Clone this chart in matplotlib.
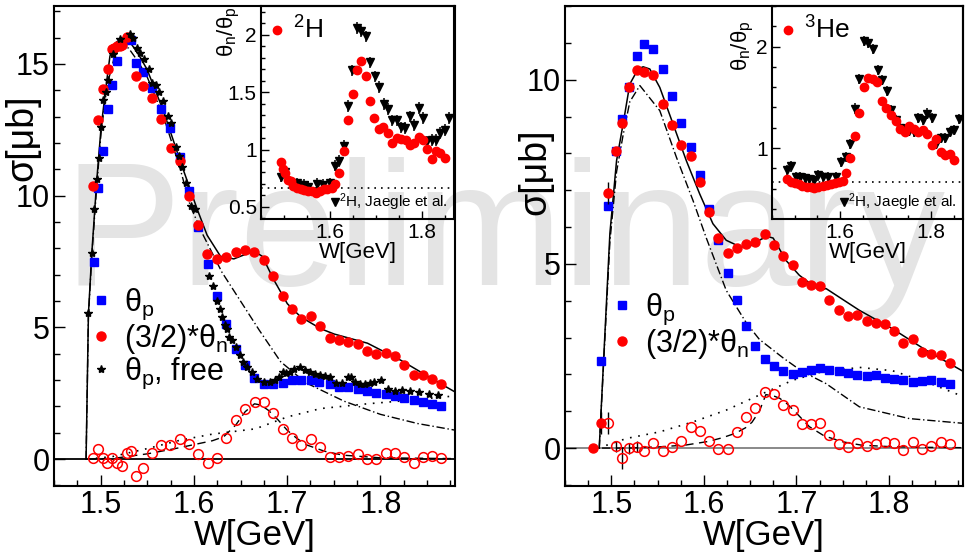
import matplotlib
matplotlib.use('Agg')
import matplotlib.pyplot as plt
from matplotlib.ticker import MultipleLocator, FormatStrFormatter

plt.rcParams['font.family'] = ['Liberation Sans Narrow', 'Liberation Sans', 'DejaVu Sans']
plt.rcParams['mathtext.fontset'] = 'custom'
plt.rcParams['mathtext.rm'] = 'Liberation Sans'
plt.rcParams['mathtext.it'] = 'Liberation Sans'

# ---- left panel (2H) : main cross sections ----
lp_x = [1.4926, 1.4977, 1.5023, 1.5077, 1.5127, 1.5174, 1.5228, 1.5328, 1.5378, 1.5453, 1.5554, 1.5651,
        1.5748, 1.5848, 1.5945, 1.6045, 1.6148, 1.6249, 1.6346, 1.6449, 1.655, 1.6647, 1.675, 1.6851,
        1.6951, 1.7051, 1.7152, 1.7253, 1.7346, 1.7457, 1.7557, 1.7654, 1.7755, 1.7855, 1.7955, 1.8056,
        1.8156, 1.8256, 1.8357, 1.8454, 1.8554, 1.8654]
lp_y = [7.5, 10.3, 11.7, 13.3, 14.2, 15.1, 15.8, 15.9, 15.05, 14.7, 14.07, 13.28,
        12.56, 11.45, 10.16, 8.83, 7.41, 6.21, 5.14, 4.19, 3.56, 3.09, 2.84, 2.84,
        2.89, 2.99, 3.02, 2.99, 2.93, 2.87, 2.74, 2.72, 2.66, 2.59, 2.51, 2.46,
        2.39, 2.31, 2.26, 2.16, 2.08, 2.03]

ln_x = [1.4923, 1.4977, 1.5023, 1.5077, 1.512, 1.5148, 1.5174, 1.521, 1.5234, 1.5282, 1.5378, 1.5453,
        1.5554, 1.5651, 1.5755, 1.5848, 1.5945, 1.6045, 1.6142, 1.6249, 1.6346, 1.6449, 1.655, 1.6647,
        1.675, 1.6851, 1.6951, 1.7051, 1.7152, 1.7253, 1.7353, 1.7457, 1.7557, 1.7654, 1.7755, 1.7855,
        1.7955, 1.8056, 1.8156, 1.8256, 1.8357, 1.8454, 1.8554, 1.8654]
ln_y = [10.35, 12.88, 14.04, 14.82, 15.55, 15.62, 15.68, 15.68, 15.72, 16.03, 14.55, 14.17,
        13.69, 12.9, 11.8, 11.3, 9.97, 8.9, 7.79, 7.6, 7.66, 7.88, 7.94, 7.85,
        7.54, 6.97, 6.21, 5.71, 5.33, 5.42, 5.04, 4.61, 4.51, 4.44, 4.36, 4.09,
        4.0, 4.03, 3.9, 3.59, 3.18, 3.18, 3.06, 2.84]

lf_x = [1.4869, 1.4905, 1.493, 1.4959, 1.4984, 1.5005, 1.503, 1.5056, 1.5084, 1.5138, 1.521, 1.531,
        1.5346, 1.5389, 1.5417, 1.5468, 1.5514, 1.555, 1.559, 1.5626, 1.5669, 1.5718, 1.5755, 1.5805,
        1.5841, 1.5877, 1.592, 1.597, 1.6016, 1.6159, 1.6205, 1.6249, 1.628, 1.6305, 1.633, 1.6354,
        1.638, 1.6405, 1.6456, 1.6493, 1.6527, 1.6571, 1.6624, 1.6677, 1.6749, 1.6813, 1.6871, 1.6914,
        1.6957, 1.6993, 1.7029, 1.7072, 1.7136, 1.7188, 1.7244, 1.7297, 1.735, 1.7404, 1.7458, 1.7529,
        1.7583, 1.7654, 1.769, 1.7733, 1.778, 1.7834, 1.7888, 1.7934, 1.8003, 1.8079, 1.8158, 1.8229,
        1.8319, 1.8419, 1.8516, 1.8616]
lf_y = [5.54, 7.81, 9.5, 10.63, 11.43, 12.61, 13.63, 13.95, 14.39, 15.37, 15.93, 16.12,
        16.0, 15.6, 15.43, 15.2, 14.8, 14.26, 14.2, 13.95, 13.6, 13.03, 12.75, 11.86,
        11.52, 11.07, 10.5, 9.62, 9.5, 6.97, 6.59, 6.02, 5.71, 5.39, 5.1, 4.95,
        4.63, 4.51, 4.25, 3.94, 3.69, 3.5, 3.31, 3.06, 2.93, 2.93, 2.99, 3.12,
        3.31, 3.27, 3.31, 3.44, 3.5, 3.37, 3.31, 3.22, 3.18, 3.14, 3.12, 2.89,
        2.89, 3.12, 3.12, 2.93, 2.87, 2.87, 2.89, 2.93, 2.99, 2.68, 2.58, 2.61,
        2.59, 2.55, 2.49, 2.45]

ld_x = [1.4922, 1.4977, 1.5023, 1.5073, 1.5127, 1.5174, 1.5228, 1.5282, 1.5328, 1.5382, 1.545, 1.555,
        1.5651, 1.5748, 1.5848, 1.5948, 1.6048, 1.6148, 1.6249, 1.6349, 1.6449, 1.655, 1.665, 1.675,
        1.6851, 1.6951, 1.7051, 1.7152, 1.7253, 1.7353, 1.7457, 1.7557, 1.7654, 1.7755, 1.7855, 1.7955,
        1.8056, 1.8156, 1.8256, 1.8357, 1.8454, 1.8554, 1.8654]
ld_y = [0.05, 0.37, 0.05, -0.16, 0.05, -0.16, -0.25, 0.25, 0.31, -0.64, -0.33, 0.25,
        0.53, 0.53, 0.78, 0.56, 0.18, -0.16, 0.05, 0.82, 1.48, 1.89, 2.15, 2.15,
        1.75, 1.16, 0.82, 0.53, 0.75, 0.47, 0.09, 0.09, 0.13, 0.18, 0.0, 0.0,
        0.22, 0.25, 0.09, -0.14, 0.09, 0.13, 0.06]

# fit curves, left panel
lsol_x = [1.4844, 1.4869, 1.4905, 1.4959, 1.5005, 1.5067, 1.51, 1.516, 1.5228, 1.53, 1.54, 1.5497,
          1.5675, 1.5855, 1.6034, 1.6142, 1.6285, 1.6428, 1.6572, 1.6643, 1.6733, 1.6858, 1.7002,
          1.7145, 1.736, 1.7503, 1.7862, 1.822, 1.8578, 1.88]
lsol_y = [0, 5.5, 7.8, 10.6, 12.6, 14.4, 15.3, 15.8, 16.0, 15.9, 15.4, 14.8,
          13.2, 11.3, 9.5, 8.5, 7.7, 7.6, 7.8, 7.9, 7.7, 6.8, 5.9,
          5.4, 4.95, 4.75, 4.4, 3.75, 3.0, 2.55]
ldd_x = [1.4844, 1.4869, 1.4905, 1.4959, 1.5005, 1.507, 1.515, 1.523, 1.53, 1.54, 1.55, 1.5675,
         1.5855, 1.5962, 1.61, 1.63, 1.65, 1.67, 1.693, 1.72, 1.761, 1.8, 1.84, 1.88]
ldd_y = [0, 5.4, 7.7, 10.4, 12.4, 14.2, 15.3, 15.7, 15.6, 15.1, 14.5, 13.0,
         11.0, 9.6, 8.5, 7.1, 6.0, 4.9, 3.7, 2.9, 2.2, 1.7, 1.35, 1.1]
lds_x = [1.486, 1.514, 1.55, 1.58, 1.6, 1.62, 1.632, 1.645, 1.655, 1.665, 1.672, 1.68, 1.69, 1.7,
         1.71, 1.72, 1.74, 1.76, 1.8, 1.88]
lds_y = [0, 0.03, 0.2, 0.4, 0.55, 0.7, 0.85, 1.3, 1.8, 2.1, 2.05, 1.85, 1.5, 1.1,
         0.8, 0.55, 0.3, 0.15, 0.05, 0.02]
ldt_x = [1.486, 1.513, 1.55, 1.5855, 1.62, 1.666, 1.70, 1.736, 1.786, 1.82, 1.85, 1.88]
ldt_y = [0.0, 0.1, 0.4, 0.72, 0.95, 1.15, 1.6, 1.92, 2.1, 2.2, 2.3, 2.4]

# ---- right panel (3He) ----
rp_x = [1.4888, 1.4967, 1.505, 1.5118, 1.519, 1.5273, 1.5351, 1.5452, 1.5559, 1.566, 1.5758, 1.5858,
        1.5958, 1.6055, 1.6156, 1.626, 1.6357, 1.6458, 1.6558, 1.6658, 1.6759, 1.6859, 1.696, 1.7057,
        1.7158, 1.7259, 1.7356, 1.7456, 1.7557, 1.7657, 1.7758, 1.7859, 1.7959, 1.8059, 1.8157, 1.8258,
        1.8358, 1.8458, 1.8559, 1.8659]
rp_y = [2.36, 6.57, 8.06, 8.93, 9.81, 10.63, 10.98, 10.82, 10.29, 9.57, 8.83, 8.17,
        7.4, 6.5, 5.66, 4.75, 4.03, 3.31, 2.78, 2.43, 2.22, 2.09, 2.02, 2.07,
        2.11, 2.16, 2.11, 2.09, 2.05, 1.98, 1.95, 1.97, 1.91, 1.88, 1.86, 1.8,
        1.82, 1.84, 1.79, 1.75]
rn_x = [1.4805, 1.4888, 1.4967, 1.505, 1.5118, 1.519, 1.5273, 1.5351, 1.5452, 1.5559, 1.566, 1.5758,
        1.5858, 1.5958, 1.6055, 1.6156, 1.626, 1.6357, 1.6458, 1.6558, 1.6658, 1.6759, 1.6859, 1.696,
        1.7057, 1.7158, 1.7259, 1.7356, 1.7456, 1.7557, 1.7657, 1.7758, 1.7859, 1.7959, 1.8059, 1.8157,
        1.8258, 1.8358, 1.8458, 1.8559, 1.8659]
rn_y = [0.0, 0.69, 6.92, 8.06, 8.83, 9.81, 10.27, 10.2, 10.14, 9.34, 8.77, 8.23,
        7.93, 7.22, 6.4, 5.71, 5.3, 5.44, 5.53, 5.59, 5.8, 5.5, 5.2, 4.98,
        4.51, 4.42, 4.4, 4.03, 3.74, 3.58, 3.62, 3.45, 3.4, 3.36, 3.18, 2.85,
        2.95, 2.61, 2.54, 2.52, 2.31]
rn_err = [0.0, 0.3, 0.3] + [0.0] * 38
rd_x = [1.4967, 1.505, 1.5118, 1.519, 1.5273, 1.5351, 1.5452, 1.5559, 1.566, 1.5758, 1.5858, 1.5958,
        1.6055, 1.6156, 1.626, 1.6357, 1.6458, 1.6558, 1.6658, 1.6759, 1.6859, 1.696, 1.7057, 1.7158,
        1.7259, 1.7356, 1.7456, 1.7557, 1.7657, 1.7758, 1.7859, 1.7959, 1.8059, 1.8157, 1.8258, 1.8358,
        1.8458, 1.8559, 1.8659]
rd_y = [0.67, 0.05, -0.28, -0.01, 0.04, -0.08, 0.13, -0.08, 0.04, 0.2, 0.56, 0.47,
        0.2, -0.03, -0.03, 0.44, 0.83, 1.1, 1.51, 1.46, 1.18, 1.03, 0.66, 0.65,
        0.67, 0.35, 0.11, 0.02, 0.14, 0.06, 0.11, 0.17, 0.13, -0.05, 0.17, -0.03,
        0.05, 0.17, 0.1]
rd_err = [0.3, 0.15, 0.3, 0.15, 0.15] + [0.0] * 34

rsol_x = [1.487, 1.4985, 1.5057, 1.5128, 1.52, 1.529, 1.5344, 1.5416, 1.5524, 1.5667, 1.5811, 1.5955,
          1.6098, 1.6242, 1.6386, 1.648, 1.66, 1.668, 1.6749, 1.6889, 1.7032, 1.7248, 1.732, 1.768,
          1.8037, 1.8398, 1.881]
rsol_y = [0, 5.83, 7.8, 8.8, 9.88, 10.29, 10.35, 10.29, 9.79, 8.8, 7.8, 6.9,
          6.09, 5.64, 5.47, 5.45, 5.64, 5.75, 5.7, 5.09, 4.69, 4.28, 4.33, 3.74,
          3.24, 2.66, 2.07]
rdd_x = [1.487, 1.4985, 1.5057, 1.5128, 1.52, 1.5309, 1.5524, 1.5703, 1.5883, 1.6027, 1.6242, 1.6458,
         1.66, 1.6855, 1.7068, 1.732, 1.768, 1.822, 1.881]
rdd_y = [0, 5.6, 7.5, 8.5, 9.4, 9.84, 9.16, 7.9, 6.72, 5.7, 4.28, 3.4,
         2.95, 2.45, 2.07, 1.75, 1.12, 0.8, 0.67]
rdt_x = [1.486, 1.5164, 1.5524, 1.5883, 1.6242, 1.6601, 1.696, 1.7248, 1.768, 1.8037, 1.8398, 1.881]
rdt_y = [0.0, 0.26, 0.44, 0.71, 1.03, 1.44, 1.84, 2.05, 2.19, 2.1, 1.8, 1.39]
rds_x = [1.49, 1.52, 1.55, 1.58, 1.605, 1.62, 1.634, 1.645, 1.652, 1.66, 1.667, 1.675, 1.682, 1.69,
         1.7, 1.714, 1.73, 1.75, 1.77, 1.8, 1.84, 1.88]
rds_y = [0, 0.0, 0.03, 0.08, 0.18, 0.28, 0.4, 0.55, 0.7, 1.0, 1.45, 1.42, 1.35, 1.2,
         0.95, 0.58, 0.33, 0.17, 0.08, 0.04, 0.02, 0.01]

# ---- insets: ratio theta_n/theta_p ----
i2r_x = [1.4936, 1.4986, 1.5028, 1.5078, 1.515, 1.5206, 1.5277, 1.5362, 1.5433, 1.5518, 1.561, 1.5702,
         1.5787, 1.5872, 1.5943, 1.6035, 1.6106, 1.6199, 1.6298, 1.639, 1.6496, 1.6582, 1.6674, 1.678,
         1.6872, 1.6965, 1.7064, 1.7156, 1.7255, 1.7348, 1.7454, 1.7546, 1.7645, 1.7738, 1.783, 1.7929,
         1.8021, 1.8113, 1.8213, 1.8305, 1.8397, 1.8504]
i2r_y = [0.89, 0.828, 0.794, 0.735, 0.727, 0.683, 0.663, 0.654, 0.648, 0.642, 0.642, 0.625,
         0.642, 0.654, 0.654, 0.663, 0.698, 0.794, 0.991, 1.253, 1.485, 1.689, 1.773, 1.637,
         1.419, 1.273, 1.177, 1.192, 1.142, 1.061, 1.099, 1.09, 1.084, 1.041, 1.055, 1.105,
         1.084, 1.006, 0.916, 0.983, 0.974, 0.93]
i2j_x = [1.4936, 1.5021, 1.5291, 1.534, 1.5433, 1.5518, 1.5716, 1.5858, 1.6, 1.6106, 1.6199, 1.6298,
         1.6383, 1.6482, 1.6582, 1.6674, 1.678, 1.6872, 1.6972, 1.7071, 1.717, 1.7262, 1.7348, 1.7454,
         1.7546, 1.7631, 1.7738, 1.783, 1.7929, 1.8021, 1.8113, 1.8213, 1.8305, 1.8397, 1.8496, 1.8589]
i2j_y = [0.765, 0.808, 0.706, 0.692, 0.692, 0.677, 0.7, 0.692, 0.706, 0.86, 0.901, 1.035,
         1.381, 1.689, 2.058, 2.029, 1.985, 1.759, 1.637, 1.544, 1.398, 1.352, 1.253, 1.253,
         1.192, 1.186, 1.288, 1.215, 1.36, 1.273, 1.07, 1.084, 1.084, 1.142, 1.172, 1.273]

i3r_x = [1.483, 1.4926, 1.5, 1.5096, 1.517, 1.5259, 1.5348, 1.543, 1.5519, 1.5615, 1.5704, 1.5793,
         1.5889, 1.5978, 1.6052, 1.6126, 1.6222, 1.6319, 1.6422, 1.6519, 1.6615, 1.6719, 1.6815, 1.6911,
         1.7015, 1.7111, 1.7222, 1.7319, 1.7415, 1.7519, 1.7615, 1.7719, 1.7815, 1.7911, 1.8015, 1.8111,
         1.8207, 1.8311, 1.8407, 1.8504]
i3r_y = [0.696, 0.663, 0.653, 0.647, 0.63, 0.62, 0.62, 0.607, 0.614, 0.63, 0.64, 0.647,
         0.653, 0.66, 0.673, 0.752, 0.904, 1.119, 1.347, 1.597, 1.693, 1.677, 1.653, 1.462,
         1.399, 1.323, 1.267, 1.191, 1.158, 1.214, 1.191, 1.158, 1.175, 1.135, 1.026, 1.092,
         0.96, 0.927, 0.944, 0.878]
i3j_x = [1.483, 1.4926, 1.5022, 1.5126, 1.5222, 1.5319, 1.5422, 1.5519, 1.5615, 1.5726, 1.5911, 1.6022,
         1.6126, 1.6222, 1.6319, 1.6422, 1.6519, 1.6615, 1.6719, 1.683, 1.6926, 1.7022, 1.7119, 1.7222,
         1.7319, 1.7422, 1.7519, 1.7615, 1.7719, 1.7815, 1.7911, 1.8015, 1.8111, 1.8207, 1.8311, 1.8407,
         1.8504, 1.8607]
i3j_y = [0.785, 0.818, 0.713, 0.713, 0.703, 0.696, 0.68, 0.729, 0.713, 0.713, 0.713, 0.861,
         0.911, 1.043, 1.389, 1.68, 2.059, 2.033, 1.974, 1.769, 1.67, 1.564, 1.373, 1.274,
         1.198, 1.191, 1.168, 1.158, 1.3, 1.274, 1.34, 1.3, 1.043, 1.099, 1.099, 1.158,
         1.175, 1.29]

BLUE = '#0000ff'
RED = '#ff0000'
TFS = 22   # tick labels
LFS = 25   # axis titles

fig = plt.figure(figsize=(9.65, 5.57), dpi=100)
W, H = 965.0, 557.0


def box(x0, y0, x1, y1):
    return [x0 / W, 1 - y1 / H, (x1 - x0) / W, (y1 - y0) / H]


fig.text(505 / W, 1 - 285 / H, 'Preliminary', fontsize=127, color='#e4e4e4',
         family='Liberation Sans', ha='center', va='baseline', zorder=-5)


def style(ax, xmaj, xmin, ymaj, ymin, fs, tl):
    ax.set_facecolor('none')
    ax.xaxis.set_major_locator(MultipleLocator(xmaj))
    ax.xaxis.set_minor_locator(MultipleLocator(xmin))
    ax.yaxis.set_major_locator(MultipleLocator(ymaj))
    ax.yaxis.set_minor_locator(MultipleLocator(ymin))
    ax.xaxis.set_major_formatter(FormatStrFormatter('%g'))
    ax.yaxis.set_major_formatter(FormatStrFormatter('%g'))
    ax.tick_params(which='both', direction='in', top=False, right=False, labelsize=fs, width=1, pad=3)
    ax.tick_params(which='major', length=tl)
    ax.tick_params(which='minor', length=tl * 0.5)
    for s in ax.spines.values():
        s.set_linewidth(1.5)


def main_panel(ax, ylim, p_x, p_y, n_x, n_y, d_x, d_y, sol, dd, dt, ds, zero_col):
    ax.set_xlim(1.45, 1.88)
    ax.set_ylim(*ylim)
    style(ax, 0.1, 0.025, 5, 1, TFS, 8)
    ax.axhline(0, color=zero_col, lw=1.3, zorder=1)
    ax.plot(sol[0], sol[1], color='black', lw=1.1, zorder=3)
    ax.plot(dd[0], dd[1], color='black', lw=1.0, ls=(0, (6, 2, 1, 2)), zorder=3)
    ax.plot(dt[0], dt[1], color='black', lw=1.2, ls=(0, (1, 4)), zorder=3)
    ax.plot(ds[0], ds[1], color='black', lw=1.0, ls=(0, (6, 4)), zorder=3)
    hp, = ax.plot(p_x, p_y, 's', color=BLUE, ms=6, ls='none', zorder=4)
    hn, = ax.plot(n_x, n_y, 'o', color=RED, ms=6.5, ls='none', zorder=5)
    ax.plot(d_x, d_y, 'o', mfc='none', mec=RED, mew=1.1, ms=7, ls='none', zorder=5)
    ax.set_xlabel('W[GeV]', fontsize=LFS, labelpad=-1)
    return hp, hn


axl = fig.add_axes(box(54, 6, 455, 486))
hp, hn = main_panel(axl, (-1.02, 17.2), lp_x, lp_y, ln_x, ln_y, ld_x, ld_y,
                    (lsol_x, lsol_y), (ldd_x, ldd_y), (ldt_x, ldt_y), (lds_x, lds_y), 'black')
hf, = axl.plot(lf_x, lf_y, '*', color='black', ms=6, ls='none', zorder=6)
axl.set_ylabel('σ[μb]', fontsize=LFS + 2, loc='top')
axl.yaxis.set_label_coords(-0.035, 0.815)
axl.legend([hp, hn, hf], ['θ$_\\mathrm{p}$', '(3/2)*θ$_\\mathrm{n}$', 'θ$_\\mathrm{p}$, free'],
           loc='upper left', bbox_to_anchor=(0.095, 0.415), frameon=False, fontsize=22,
           handlelength=0.6, handletextpad=0.45, labelspacing=0.0, borderpad=0, borderaxespad=0)

axr = fig.add_axes(box(565, 6, 963, 486))
hp2, hn2 = main_panel(axr, (-1.03, 12.0), rp_x, rp_y, rn_x, rn_y, rd_x, rd_y,
                      (rsol_x, rsol_y), (rdd_x, rdd_y), (rdt_x, rdt_y), (rds_x, rds_y), '#808080')
axr.errorbar(rn_x[:3], rn_y[:3], yerr=rn_err[:3], fmt='none', ecolor='black', elinewidth=1, zorder=4)
axr.errorbar(rd_x[:5], rd_y[:5], yerr=rd_err[:5], fmt='none', ecolor='black', elinewidth=1, zorder=4)
axr.set_ylabel('σ[μb]', fontsize=LFS + 2, loc='top')
axr.yaxis.set_label_coords(-0.03, 0.745)
axr.legend([hp2, hn2], ['θ$_\\mathrm{p}$', '(3/2)*θ$_\\mathrm{n}$'],
           loc='upper left', bbox_to_anchor=(0.12, 0.405), frameon=False, fontsize=22,
           handlelength=0.6, handletextpad=0.45, labelspacing=0.0, borderpad=0, borderaxespad=0)


def inset(rect, ylim, ymaj, ymin, r_x, r_y, j_x, j_y, nucl, lab_xy):
    ax = fig.add_axes(rect)
    ax.set_xlim(1.45, 1.87)
    ax.set_ylim(*ylim)
    style(ax, 0.2, 0.05, ymaj, ymin, 15, 6)
    ax.axhline(2.0 / 3.0, color='black', lw=1.2, ls=(0, (1, 3)), zorder=1)
    ax.errorbar(j_x, j_y, yerr=0.05, fmt='v', color='black', ms=6, elinewidth=1.1, capsize=0, zorder=3)
    hr, = ax.plot(r_x, r_y, 'o', color=RED, ms=6, ls='none', zorder=4)
    hj, = ax.plot([], [], 'v', color='black', ms=6, ls='none')
    ax.set_xlabel('W[GeV]', fontsize=16, labelpad=0)
    ax.set_ylabel('θ$_\\mathrm{n}$/θ$_\\mathrm{p}$', fontsize=16, loc='top')
    ax.yaxis.set_label_coords(*lab_xy)
    lg = ax.legend([hr], [nucl], loc='upper left', frameon=False, fontsize=19,
                   handlelength=0.4, handletextpad=0.4, borderpad=0.1, borderaxespad=0.3)
    ax.add_artist(lg)
    ax.legend([hj], ['$^{2}$H, Jaegle et al.'], loc='lower right', frameon=False, fontsize=11,
              handlelength=0.4, handletextpad=0.1, borderpad=0.1, borderaxespad=0.3)
    return ax


inset(box(261, 6, 454, 219), (0.395, 2.25), 0.5, 0.1, i2r_x, i2r_y, i2j_x, i2j_y, '$^{2}$H', (-0.1, 1.0))
inset(box(772, 6, 963, 219), (0.30, 2.40), 1, 0.2, i3r_x, i3r_y, i3j_x, i3j_y, '$^{3}$He', (-0.085, 0.93))

fig.savefig('out.png', dpi=100)
